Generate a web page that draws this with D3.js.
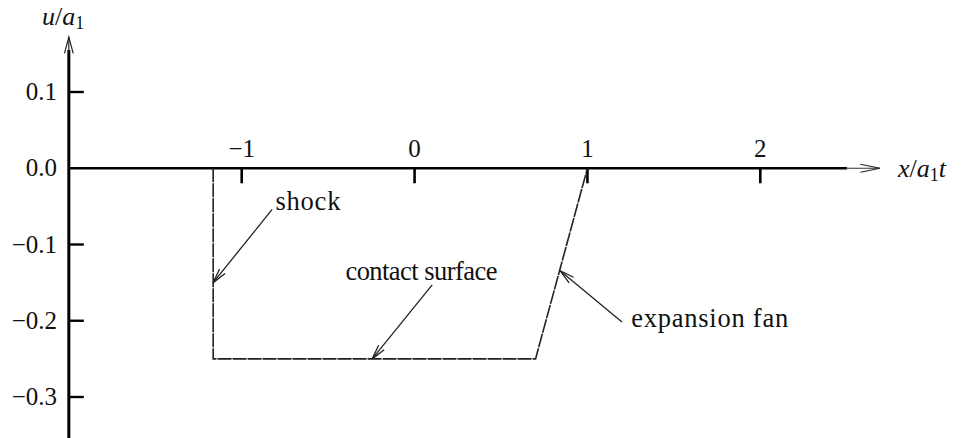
<!DOCTYPE html>
<html>
<head>
<meta charset="utf-8">
<script src="https://cdn.jsdelivr.net/npm/d3@7"></script>
<style>
  html, body { margin: 0; padding: 0; background: #fff; }
  svg { display: block; }
</style>
</head>
<body>
<svg id="chart" width="970" height="438"></svg>
<script>
// Velocity profile u/a1 against similarity coordinate x/(a1 t) in a shock tube
const xTicks = [-1, 0, 1, 2];
const yTicks = [0.1, 0.0, -0.1, -0.2, -0.3];
const xTickLabels = ["\u22121", "0", "1", "2"];
const yTickLabels = ["0.1", "0.0", "\u22120.1", "\u22120.2", "\u22120.3"];

// profile: shock, uniform region behind contact surface, expansion fan back to rest
const profileX = [-1.165, -1.165, 0.70, 1.0];
const profileU = [0.0, -0.25, -0.25, 0.0];

// annotations: label, label anchor, arrow start, arrow tip (data units)
const noteLabels = ["shock", "contact surface", "expansion fan"];
const noteTextX = [-0.805, -0.40, 1.253];
const noteTextY = [-0.055, -0.1466, -0.208];
const noteFromX = [-0.824, 0.102, 1.20];
const noteFromY = [-0.054, -0.153, -0.2017];
const noteToX = [-1.165, -0.245, 0.842];
const noteToY = [-0.15, -0.25, -0.1344];
const noteWidths = [65, 152, 157];

const svg = d3.select("#chart");
const x = d3.scaleLinear().domain([-1, 2]).range([241.7, 760.3]);
const y = d3.scaleLinear().domain([0.1, -0.3]).range([92, 397]);

const axisX = x(-2);      // vertical axis sits at x/a1t = -2
const axisY = y(0);

// open chevron arrow head at (tx,ty) pointing away from (fx,fy)
function chevron(g, fx, fy, tx, ty, len, half, width) {
  const a = Math.atan2(ty - fy, tx - fx);
  const pts = [a + Math.PI - half, a + Math.PI + half].map(t => [tx + len * Math.cos(t), ty + len * Math.sin(t)]);
  g.append("path")
    .attr("d", `M${pts[0][0]},${pts[0][1]}L${tx},${ty}L${pts[1][0]},${pts[1][1]}`)
    .attr("fill", "none").attr("stroke", "#222").attr("stroke-width", width);
}

function serifText(g, size) {
  return g.append("text")
    .attr("font-family", "Liberation Serif")
    .style("font-family", "Liberation Serif")
    .attr("font-size", size)
    .attr("fill", "#111");
}

// vertical axis
const ax = svg.append("g");
ax.append("line").attr("x1", axisX).attr("x2", axisX).attr("y1", 438).attr("y2", 50)
  .attr("stroke", "#000").attr("stroke-width", 3);
ax.append("line").attr("x1", axisX).attr("x2", axisX).attr("y1", 52).attr("y2", 37)
  .attr("stroke", "#222").attr("stroke-width", 1.2);
chevron(ax, axisX, 60, axisX, 37, 17, 0.26, 1.2);

// horizontal axis
ax.append("line").attr("x1", axisX).attr("x2", 847).attr("y1", axisY).attr("y2", axisY)
  .attr("stroke", "#000").attr("stroke-width", 2.6);
ax.append("line").attr("x1", 845).attr("x2", 880).attr("y1", axisY).attr("y2", axisY)
  .attr("stroke", "#333").attr("stroke-width", 1.2);
chevron(ax, 850, axisY, 880, axisY, 20, 0.2, 1.2);

// x ticks (downward) and labels above the axis
xTicks.forEach((v, i) => {
  ax.append("line").attr("x1", x(v)).attr("x2", x(v)).attr("y1", axisY).attr("y2", axisY + 15)
    .attr("stroke", "#000").attr("stroke-width", 2.6);
  serifText(ax, 25).attr("x", x(v)).attr("y", axisY - 11)
    .attr("text-anchor", "middle")
    .text(xTickLabels[i]);
});

// y ticks (to the right) and labels left of the axis
yTicks.forEach((v, i) => {
  if (v !== 0) {
    ax.append("line").attr("x1", axisX).attr("x2", axisX + 15).attr("y1", y(v)).attr("y2", y(v))
      .attr("stroke", "#000").attr("stroke-width", 2.4);
  }
  serifText(ax, 25).attr("x", 57).attr("y", y(v) + 8)
    .attr("text-anchor", "end")
    .text(yTickLabels[i]);
});

// axis titles
const yt = serifText(ax, 26).attr("x", 42).attr("y", 25);
yt.append("tspan").attr("font-style", "italic").text("u");
yt.append("tspan").text("/");
yt.append("tspan").attr("font-style", "italic").text("a");
yt.append("tspan").attr("font-size", 18).attr("dy", 4).text("1");

const xt = serifText(ax, 26).attr("x", 898).attr("y", 177);
xt.append("tspan").attr("font-style", "italic").text("x");
xt.append("tspan").text("/");
xt.append("tspan").attr("font-style", "italic").text("a");
xt.append("tspan").attr("font-size", 18).attr("dy", 4).text("1");
xt.append("tspan").attr("font-style", "italic").attr("dy", -4).text("t");

// velocity profile
const line = d3.line().x(d => x(d[0])).y(d => y(d[1]));
svg.append("path")
  .datum(profileX.map((v, i) => [v, profileU[i]]))
  .attr("d", line)
  .attr("fill", "none").attr("stroke", "#222").attr("stroke-width", 1.6)
  .attr("stroke-dasharray", "14,1");

// annotations
const notes = svg.append("g");
noteLabels.forEach((lab, i) => {
  serifText(notes, 26.5).attr("x", x(noteTextX[i])).attr("y", y(noteTextY[i]))
    .attr("textLength", noteWidths[i]).attr("lengthAdjust", "spacing")
    .text(lab);
  const fx = x(noteFromX[i]), fy = y(noteFromY[i]), tx = x(noteToX[i]), ty = y(noteToY[i]);
  notes.append("line").attr("x1", fx).attr("y1", fy).attr("x2", tx).attr("y2", ty)
    .attr("stroke", "#222").attr("stroke-width", 1.3);
  chevron(notes, fx, fy, tx, ty, 15, 0.24, 1.3);
});
</script>
</body>
</html>
